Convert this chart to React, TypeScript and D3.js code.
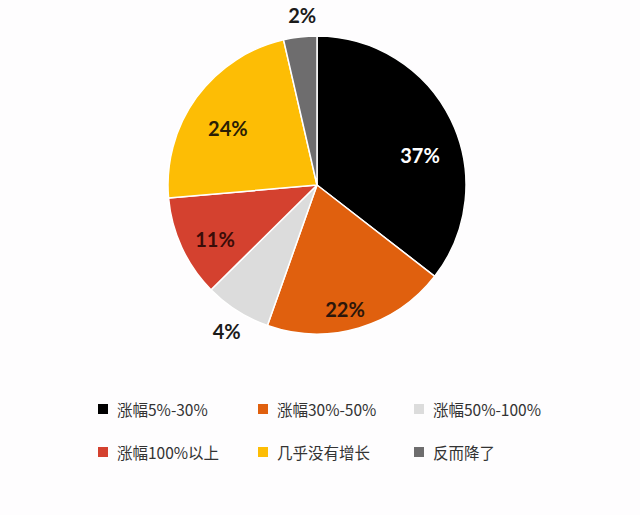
import { useEffect, useRef } from "react";
import * as d3 from "d3";

const categories = [
  "涨幅5%-30%",
  "涨幅30%-50%",
  "涨幅50%-100%",
  "涨幅100%以上",
  "几乎没有增长",
  "反而降了",
];
const shares = [35.5, 19.9, 7.2, 11.0, 22.8, 3.6];
const pctLabels = ["37%", "22%", "4%", "11%", "24%", "2%"];
const colors = ["#000000", "#e0600e", "#dcdcdc", "#d4412f", "#fdbd05", "#6e6d6e"];
const labelColors = ["#ffffff", "#2b160a", "#1a1a1a", "#3a0c08", "#2a1d05", "#1a1a1a"];
// label placement: radius factor and angle nudge (degrees) off the slice middle
const labelRadius = [0.72, 0.85, 1.15, 0.775, 0.71, 1.145];
const labelNudge = [9.9, 3.6, -0.6, -3.1, -3.4, 1.5];

interface Slice {
  name: string;
  share: number;
  label: string;
  color: string;
  textColor: string;
  lr: number;
  nudge: number;
}

export default function App() {
  const svgRef = useRef<SVGSVGElement>(null);

  useEffect(() => {
    if (!svgRef.current) return;
    const width = 640;
    const height = 515;
    const cx = 317;
    const cy = 185;
    const r = 149;

    const svg = d3.select(svgRef.current);
    svg.selectAll("*").remove();

    const data: Slice[] = categories.map((name, i) => ({
      name,
      share: shares[i],
      label: pctLabels[i],
      color: colors[i],
      textColor: labelColors[i],
      lr: labelRadius[i],
      nudge: labelNudge[i],
    }));

    svg
      .append("rect")
      .attr("width", width)
      .attr("height", height)
      .attr("fill", "#fefdfe");

    const pie = d3
      .pie<Slice>()
      .value((d) => d.share)
      .sort(null);
    const arcs = pie(data);
    const arc = d3.arc<d3.PieArcDatum<Slice>>().innerRadius(0).outerRadius(r);

    const g = svg.append("g").attr("transform", `translate(${cx},${cy})`);

    g.selectAll("path")
      .data(arcs)
      .join("path")
      .attr("d", arc)
      .attr("fill", (d) => d.data.color)
      .attr("stroke", "#ffffff")
      .attr("stroke-width", 1.5)
      .attr("stroke-linejoin", "round");

    g.selectAll("text")
      .data(arcs)
      .join("text")
      .attr("transform", (d) => {
        const a = (d.startAngle + d.endAngle) / 2 + (d.data.nudge * Math.PI) / 180;
        const rr = r * d.data.lr;
        return `translate(${Math.sin(a) * rr},${-Math.cos(a) * rr})`;
      })
      .attr("text-anchor", "middle")
      .attr("dominant-baseline", "central")
      .attr("font-family", "Lato, 'Open Sans', sans-serif")
      .attr("font-weight", "bold")
      .attr("font-size", 20)
      .attr("fill", (d) => d.data.textColor)
      .text((d) => d.data.label);

    // legend: 3 columns, 2 rows
    const colX = [98, 258, 414];
    const rowY = [409, 452];
    const legend = svg
      .append("g")
      .selectAll("g")
      .data(data)
      .join("g")
      .attr("transform", (_, i) => `translate(${colX[i % 3]},${rowY[Math.floor(i / 3)]})`);

    legend
      .append("rect")
      .attr("x", 0)
      .attr("y", -5)
      .attr("width", 10)
      .attr("height", 10)
      .attr("fill", (d) => d.color);

    legend
      .append("text")
      .attr("x", 19)
      .attr("y", 0)
      .attr("dominant-baseline", "central")
      .attr("font-family", "'Noto Sans CJK SC', sans-serif")
      .attr("font-size", 15.5)
      .attr("fill", "#333333")
      .text((d) => d.name);
  }, []);

  return (
    <div style={{ position: "fixed", left: 0, top: 0, width: 640, height: 515 }}>
      <svg ref={svgRef} width={640} height={515} style={{ display: "block" }}></svg>
    </div>
  );
}
